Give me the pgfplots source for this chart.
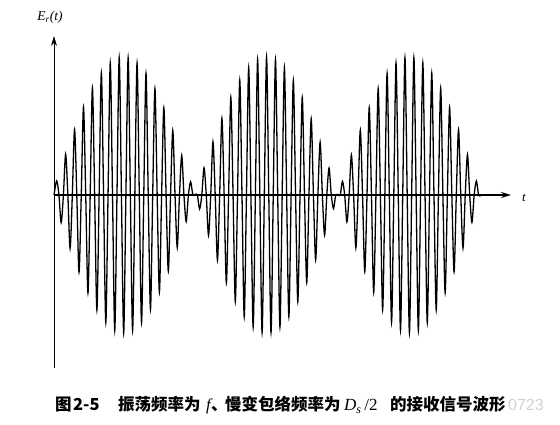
\documentclass[border=0pt]{standalone}
\usepackage{fontspec}
\setmainfont{Liberation Serif}
\newfontfamily\cjk{Noto Sans CJK SC}
\newfontfamily\wmfont{Liberation Sans}
\usepackage{pgfplots}
\pgfplotsset{compat=1.18}
\usetikzlibrary{arrows.meta}
\begin{document}
\begin{tikzpicture}
\useasboundingbox (-54pt,-57pt) rectangle (506pt,368pt);
\begin{axis}[
  at={(0pt,0pt)}, anchor=south west,
  scale only axis, width=457pt, height=332pt,
  xmin=-0.605, xmax=101.75, ymin=-173, ymax=159,
  axis x line=middle, axis y line=left,
  xtick=\empty, ytick=\empty,
  x axis line style={line width=1.4pt, -{Stealth[length=10pt,width=6pt]}},
  y axis line style={line width=0.9pt, -{Stealth[length=10pt,width=6pt]}},
  clip=false,
]
\addplot[black, line width=1.3pt, smooth] coordinates {
(-0.6,0)
(0,14.2) (0.5,0) (1,-27.6) (1.5,0) (2,40.7) (2.5,0) (3,-53.4) (3.5,0)
(4,65.6) (4.5,0) (5,-77.2) (5.5,0) (6,88.0) (6.5,0) (7,-98.0) (7.5,0)
(8,107.1) (8.5,0) (9,-115.1) (9.5,0) (10,122.0) (10.5,0) (11,-127.7) (11.5,0)
(12,132.2) (12.5,0) (13,-135.5) (13.5,0) (14,137.4) (14.5,0) (15,-138.0) (15.5,0)
(16,137.3) (16.5,0) (17,-135.3) (17.5,0) (18,131.9) (18.5,0) (19,-127.3) (19.5,0)
(20,121.5) (20.5,0) (21,-114.5) (21.5,0) (22,106.4) (22.5,0) (23,-97.3) (23.5,0)
(24,87.2) (24.5,0) (25,-76.3) (25.5,0) (26,64.7) (26.5,0) (27,-52.5) (27.5,0)
(28,39.7) (28.5,0) (29,-26.6) (29.5,0) (30,13.2) (30.5,0) (31,0.3) (31.5,0)
(32,-13.9) (32.5,0) (33,27.2) (33.5,0) (34,-40.4) (34.5,0) (35,53.1) (35.5,0)
(36,-65.3) (36.5,0) (37,76.9) (37.5,0) (38,-87.8) (38.5,0) (39,97.8) (39.5,0)
(40,-106.8) (40.5,0) (41,114.9) (41.5,0) (42,-121.8) (42.5,0) (43,127.6) (43.5,0)
(44,-132.1) (44.5,0) (45,135.4) (45.5,0) (46,-137.4) (46.5,0) (47,138.0) (47.5,0)
(48,-137.3) (48.5,0) (49,135.3) (49.5,0) (50,-132.0) (50.5,0) (51,127.5) (51.5,0)
(52,-121.6) (52.5,0) (53,114.7) (53.5,0) (54,-106.6) (54.5,0) (55,97.5) (55.5,0)
(56,-87.5) (56.5,0) (57,76.6) (57.5,0) (58,-65.0) (58.5,0) (59,52.8) (59.5,0)
(60,-40.0) (60.5,0) (61,26.9) (61.5,0) (62,-13.5) (62.5,0) (63,0) (63.5,0)
(64,13.5) (64.5,0) (65,-26.9) (65.5,0) (66,40.0) (66.5,0) (67,-52.8) (67.5,0)
(68,65.0) (68.5,0) (69,-76.6) (69.5,0) (70,87.5) (70.5,0) (71,-97.5) (71.5,0)
(72,106.6) (72.5,0) (73,-114.7) (73.5,0) (74,121.6) (74.5,0) (75,-127.4) (75.5,0)
(76,132.0) (76.5,0) (77,-135.3) (77.5,0) (78,137.3) (78.5,0) (79,-138.0) (79.5,0)
(80,137.4) (80.5,0) (81,-135.4) (81.5,0) (82,132.1) (82.5,0) (83,-127.6) (83.5,0)
(84,121.8) (84.5,0) (85,-114.9) (85.5,0) (86,106.9) (86.5,0) (87,-97.8) (87.5,0)
(88,87.8) (88.5,0) (89,-76.9) (89.5,0) (90,65.3) (90.5,0) (91,-53.1) (91.5,0)
(92,40.4) (92.5,0) (93,-27.3) (93.5,0) (94,13.9) (94.5,0) (95,-0.4) (95.5,0)
};
\end{axis}
% axis labels
\node at (-4pt,351pt) {\fontsize{13.5}{15}\selectfont\textit{E}\textsubscript{\textit{r}}\textit{(t)}};
\node at (470pt,170pt) {\fontsize{13}{15}\selectfont\textit{t}};
% caption
\def\cs{\fontsize{16.5}{18}\selectfont}
\node[anchor=base west, inner sep=0pt] at (1pt,-43pt) {\cs\cjk\bfseries 图};
\node[anchor=base west, inner sep=0pt] at (19pt,-43pt) {\cs\cjk\bfseries 2-5};
\node[anchor=base west, inner sep=0pt] at (64pt,-43pt) {\cs\cjk\bfseries 振荡频率为};
\node[anchor=base west, inner sep=0pt] at (152pt,-43pt) {\fontsize{16.5}{18}\selectfont\textit{f}};
\node[anchor=base west, inner sep=0pt] at (157pt,-43pt) {\cs\cjk\bfseries 、};
\node[anchor=base west, inner sep=0pt] at (171pt,-43pt) {\cs\cjk\bfseries 慢变包络频率为};
\node[anchor=base west, inner sep=0pt] at (290pt,-43pt) {\fontsize{17}{18}\selectfont\textit{D}\textsubscript{\textit{s}}\,/2};
\node[anchor=base west, inner sep=0pt] at (336pt,-43pt) {\cs\cjk\bfseries 的接收信号波形};
\node[anchor=base west, inner sep=0pt, text=black!18] at (454pt,-43pt) {\fontsize{16}{18}\selectfont\wmfont 0723};
\end{tikzpicture}
\end{document}
